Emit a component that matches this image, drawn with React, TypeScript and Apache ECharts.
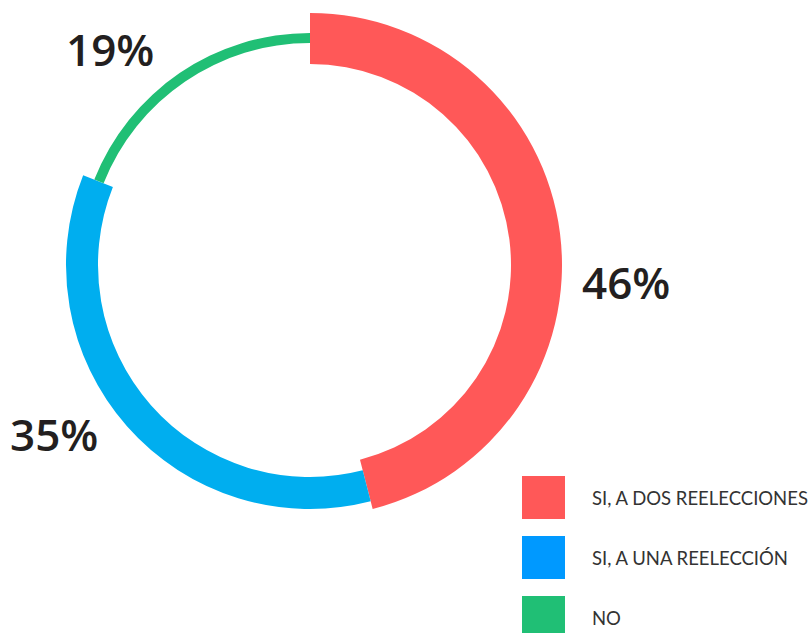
import React, { useEffect, useRef } from "react";
import * as echarts from "echarts";

const categories = ["SI, A DOS REELECCIONES", "SI, A UNA REELECCIÓN", "NO"];
const values = [46, 35, 19];
const ringColors = ["#FF5858", "#00AEEF", "#20BF75"];
const legendColors = ["#FF5858", "#0099FF", "#20BF75"];
const radii: [number, number][] = [
  [201, 252],
  [212, 244],
  [222, 232],
];
const labelPos: [number, number][] = [
  [582, 282],
  [10, 434],
  [66, 49],
];

export default function App() {
  const ref = useRef<HTMLDivElement>(null);
  useEffect(() => {
    document.body.style.margin = "0";
    const chart = echarts.init(ref.current!, undefined, { renderer: "svg" });
    const series = categories.map((_, si) => ({
      type: "pie",
      center: [310, 265],
      radius: radii[si],
      startAngle: 90,
      clockwise: true,
      silent: true,
      label: { show: false },
      labelLine: { show: false },
      emphasis: { disabled: true },
      data: categories.map((name, i) => ({
        name,
        value: values[i],
        itemStyle: {
          color: i === si ? ringColors[i] : "rgba(0,0,0,0)",
          borderWidth: 0,
        },
      })),
    }));
    chart.setOption({
      animation: false,
      backgroundColor: "#ffffff",
      legend: {
        orient: "vertical",
        left: 522,
        top: 476,
        height: 200,
        padding: 0,
        icon: "rect",
        itemWidth: 43,
        itemHeight: 43,
        itemGap: 17,
        selectedMode: false,
        textStyle: {
          fontFamily: "Lato",
          fontSize: 18.5,
          color: "#333333",
          padding: [0, 0, 0, 22],
        },
        data: categories.map((name, i) => ({
          name,
          itemStyle: { color: legendColors[i] },
        })),
      },
      graphic: values.map((v, i) => ({
        type: "text",
        x: labelPos[i][0],
        y: labelPos[i][1],
        style: {
          text: `${v}%`,
          fontFamily: "Open Sans",
          fontWeight: 600,
          fontSize: 44,
          fill: "#231F20",
          textAlign: "left",
          textVerticalAlign: "middle",
        },
      })),
      series,
    });
    return () => chart.dispose();
  }, []);
  return <div ref={ref} style={{ width: 811, height: 633 }} />;
}
